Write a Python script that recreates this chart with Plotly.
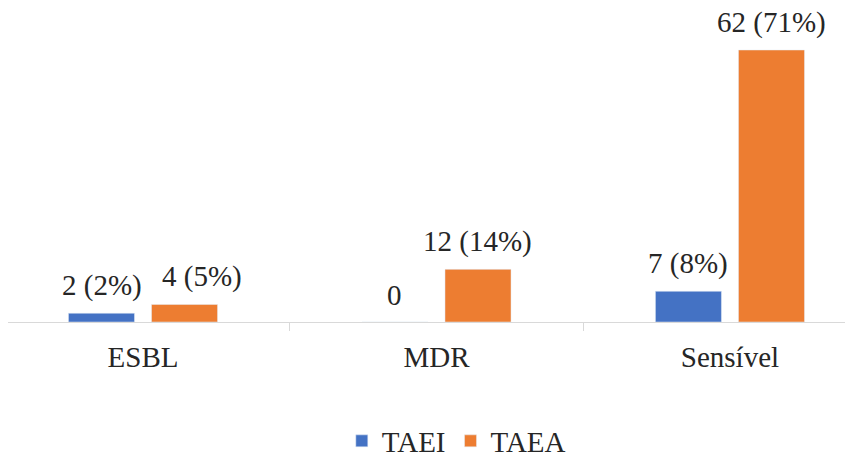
import plotly.graph_objects as go

categories = ["ESBL", "MDR", "Sensível"]
taei_values = [2, 0, 7]
taea_values = [4, 12, 62]
taei_labels = ["2 (2%)", "0", "7 (8%)"]
taea_labels = ["4 (5%)", "12 (14%)", "62 (71%)"]

BLUE = "#4472C4"
ORANGE = "#ED7D31"
FONT = "Liberation Serif"
TXT = "#262626"
FS = 29

fig = go.Figure()
fig.add_trace(go.Bar(name="TAEI", x=categories, y=taei_values, marker_color=BLUE))
fig.add_trace(go.Bar(name="TAEA", x=categories, y=taea_values, marker_color=ORANGE))

W, H = 845, 459
plot_bottom = 322
mt, mb = 0, H - plot_bottom

annotations = []
bar_off = 41.5
for i, c in enumerate(categories):
    annotations.append(dict(x=c, y=taei_values[i], xref="x", yref="y", text=taei_labels[i],
                            showarrow=False, yanchor="bottom", xshift=-bar_off, yshift=9,
                            font=dict(family=FONT, size=FS, color=TXT)))
    extra = 17 if i == 0 else 0
    annotations.append(dict(x=c, y=taea_values[i], xref="x", yref="y", text=taea_labels[i],
                            showarrow=False, yanchor="bottom", xshift=bar_off + extra, yshift=9,
                            font=dict(family=FONT, size=FS, color=TXT)))

fig.update_layout(
    width=W, height=H,
    margin=dict(l=0, r=0, t=mt, b=mb, autoexpand=False),
    paper_bgcolor="white", plot_bgcolor="white",
    font=dict(family=FONT, size=FS, color=TXT),
    barmode="group", bargap=0.434, bargroupgap=0.205,
    showlegend=True,
    legend=dict(orientation="h", x=0.54, xanchor="center", y=-(441 - plot_bottom) / plot_bottom,
                yanchor="middle", font=dict(family=FONT, size=FS, color=TXT),
                itemwidth=30, traceorder="normal"),
    annotations=annotations,
    xaxis=dict(type="category", domain=[8 / W, 1], range=[-0.46, 2.392], automargin=False,
               showline=True, linecolor="#D9D9D9", linewidth=1.3,
               ticks="outside", tickson="boundaries", ticklen=8, tickcolor="#D9D9D9",
               showgrid=False, zeroline=False,
               tickfont=dict(family=FONT, size=FS, color=TXT), ticklabelstandoff=9),
    yaxis=dict(range=[0, plot_bottom / 4.387], visible=False, showgrid=False, zeroline=False,
               automargin=False),
)

fig.write_html("out.html")
